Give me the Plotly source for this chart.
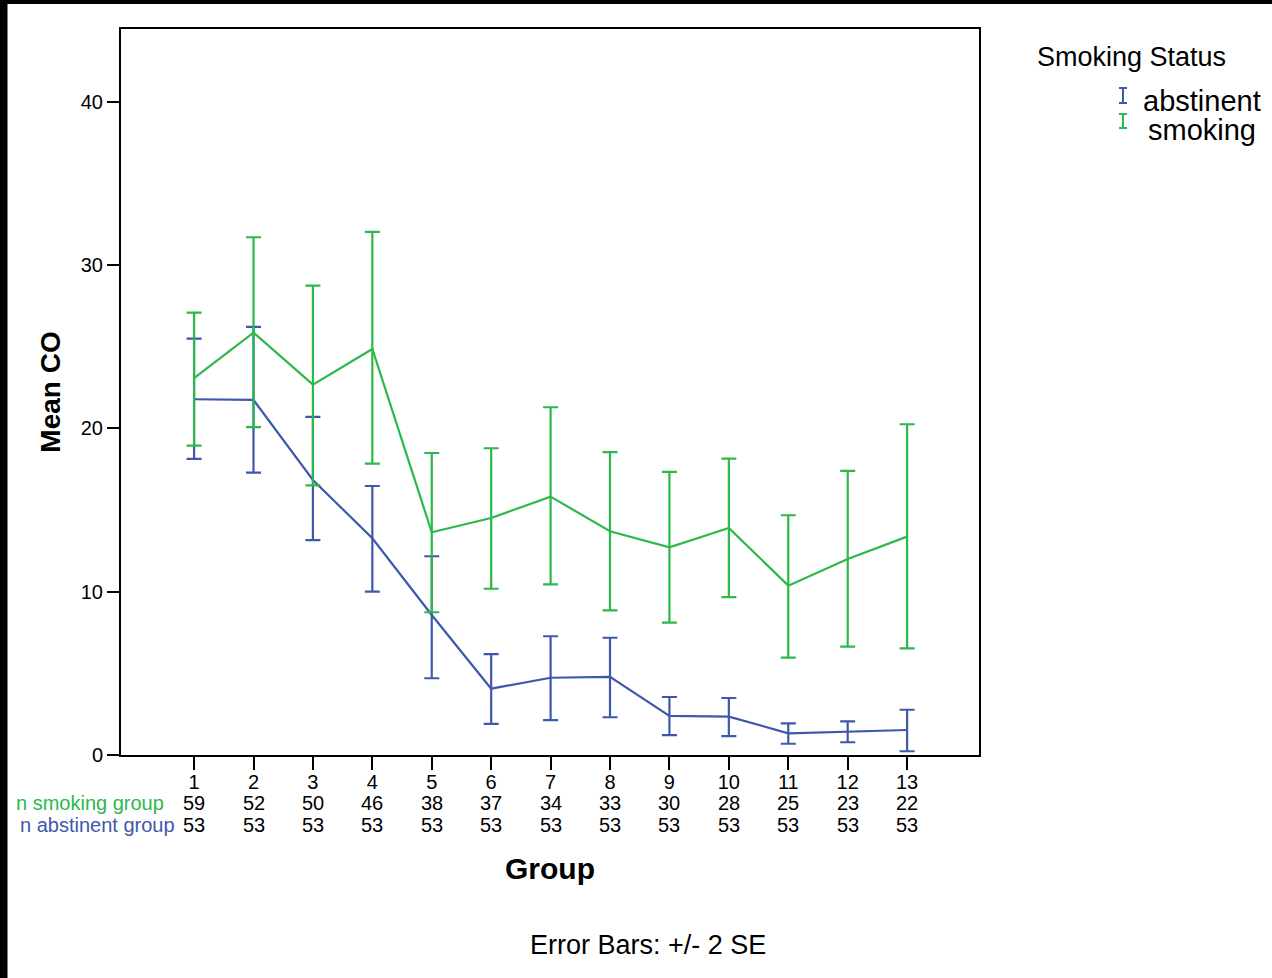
import plotly.graph_objects as go

# ---- data ----
groups = [1, 2, 3, 4, 5, 6, 7, 8, 9, 10, 11, 12, 13]

smoking_mean  = [23.07, 25.86, 22.68, 24.86, 13.64, 14.51, 15.82, 13.70, 12.72, 13.90, 10.37, 12.00, 13.37]
smoking_upper = [27.09, 31.70, 28.74, 32.03, 18.49, 18.78, 21.29, 18.54, 17.33, 18.14, 14.68, 17.39, 20.25]
smoking_lower = [18.94, 20.07, 16.51, 17.84, 8.74, 10.18, 10.45, 8.86, 8.10, 9.66, 5.96, 6.63, 6.53]

abstinent_mean  = [21.78, 21.74, 16.84, 13.27, 8.57, 4.06, 4.73, 4.78, 2.39, 2.35, 1.33, 1.41, 1.53]
abstinent_upper = [25.49, 26.21, 20.70, 16.47, 12.17, 6.18, 7.27, 7.18, 3.55, 3.49, 1.94, 2.06, 2.77]
abstinent_lower = [18.13, 17.29, 13.15, 10.00, 4.70, 1.90, 2.14, 2.31, 1.22, 1.16, 0.69, 0.78, 0.23]

smoking_n   = [59, 52, 50, 46, 38, 37, 34, 33, 30, 28, 25, 23, 22]
abstinent_n = [53, 53, 53, 53, 53, 53, 53, 53, 53, 53, 53, 53, 53]

y_ticks = [0, 10, 20, 30, 40]

GREEN = "#2db84b"
BLUE = "#3e58ac"
FONT = "Liberation Sans, Arial, sans-serif"

W, H = 1272, 978
L, R, T, B = 121, 293, 29, 223
PW, PH = W - L - R, H - T - B


def px_x(p):
    return (p - L) / PW


def px_y(p):
    return (H - B - p) / PH


fig = go.Figure()

for name, mean, up, lo, col in [
    ("abstinent", abstinent_mean, abstinent_upper, abstinent_lower, BLUE),
    ("smoking", smoking_mean, smoking_upper, smoking_lower, GREEN),
]:
    fig.add_trace(go.Scatter(
        x=groups, y=mean, mode="lines", name=name,
        line=dict(color=col, width=2.2),
        error_y=dict(type="data", symmetric=False,
                     array=[u - m for u, m in zip(up, mean)],
                     arrayminus=[m - l for m, l in zip(mean, lo)],
                     color=col, thickness=2.2, width=7.5),
        showlegend=False,
    ))

annotations = []
# count rows under the x axis
for g, sn, an in zip(groups, smoking_n, abstinent_n):
    annotations.append(dict(x=g, xref="x", y=px_y(803), yref="paper", text=str(sn),
                            showarrow=False, font=dict(size=20, color="black", family=FONT),
                            xanchor="center", yanchor="middle"))
    annotations.append(dict(x=g, xref="x", y=px_y(825), yref="paper", text=str(an),
                            showarrow=False, font=dict(size=20, color="black", family=FONT),
                            xanchor="center", yanchor="middle"))
annotations.append(dict(x=px_x(166), xref="paper", y=px_y(803), yref="paper", text="n smoking group",
                        showarrow=False, font=dict(size=20, color=GREEN, family=FONT),
                        xanchor="right", yanchor="middle"))
annotations.append(dict(x=px_x(177), xref="paper", y=px_y(825), yref="paper", text="n abstinent group",
                        showarrow=False, font=dict(size=20, color=BLUE, family=FONT),
                        xanchor="right", yanchor="middle"))
# footnote
annotations.append(dict(x=px_x(648), xref="paper", y=px_y(945), yref="paper", text="Error Bars: +/- 2 SE",
                        showarrow=False, font=dict(size=27, color="black", family=FONT),
                        xanchor="center", yanchor="middle"))
# legend (drawn by hand to get the error-bar icons)
annotations.append(dict(x=px_x(1035), xref="paper", y=px_y(57), yref="paper", text="Smoking Status",
                        showarrow=False, font=dict(size=27, color="black", family=FONT),
                        xanchor="left", yanchor="middle"))
annotations.append(dict(x=px_x(1202), xref="paper", y=px_y(101), yref="paper", text="abstinent",
                        showarrow=False, font=dict(size=29, color="black", family=FONT),
                        xanchor="center", yanchor="middle"))
annotations.append(dict(x=px_x(1202), xref="paper", y=px_y(130), yref="paper", text="smoking",
                        showarrow=False, font=dict(size=29, color="black", family=FONT),
                        xanchor="center", yanchor="middle"))

shapes = []
for col, y0, y1 in [(BLUE, 88, 103), (GREEN, 114, 128)]:
    xc = 1123
    shapes.append(dict(type="line", xref="paper", yref="paper", x0=px_x(xc), x1=px_x(xc),
                       y0=px_y(y0), y1=px_y(y1), line=dict(color=col, width=2)))
    for yy in (y0, y1):
        shapes.append(dict(type="line", xref="paper", yref="paper", x0=px_x(xc - 4), x1=px_x(xc + 4),
                           y0=px_y(yy), y1=px_y(yy), line=dict(color=col, width=2)))
# black frame fragments of the screenshot (top and left)
shapes.append(dict(type="rect", xref="paper", yref="paper", x0=px_x(-5), x1=px_x(7.5),
                   y0=px_y(H + 5), y1=px_y(-5), fillcolor="black", line=dict(width=0), layer="above"))
shapes.append(dict(type="rect", xref="paper", yref="paper", x0=px_x(-5), x1=px_x(W + 5),
                   y0=px_y(4), y1=px_y(-5), fillcolor="black", line=dict(width=0), layer="above"))

fig.update_layout(
    width=W, height=H,
    margin=dict(l=L, r=R, t=T, b=B, pad=0),
    paper_bgcolor="white", plot_bgcolor="white",
    font=dict(family=FONT, color="black"),
    showlegend=False,
    annotations=annotations,
    shapes=shapes,
    xaxis=dict(
        range=[-0.23, 14.21], tickmode="array", tickvals=groups, ticktext=[str(g) for g in groups],
        ticks="outside", ticklen=13, tickwidth=2, tickcolor="black",
        ticklabelstandoff=-5,
        showline=True, linecolor="black", linewidth=2, mirror=True,
        showgrid=False, zeroline=False,
        tickfont=dict(size=20, family=FONT, color="black"),
        title=dict(text="<b>Group</b>", font=dict(size=30, family=FONT, color="black"), standoff=66),
    ),
    yaxis=dict(
        range=[0, 44.45], tickmode="array", tickvals=y_ticks,
        ticks="outside", ticklen=12, tickwidth=2, tickcolor="black",
        showline=True, linecolor="black", linewidth=2, mirror=True,
        showgrid=False, zeroline=False,
        tickfont=dict(size=20, family=FONT, color="black"),
        title=dict(text="<b>Mean CO</b>", font=dict(size=28, family=FONT, color="black"), standoff=12),
    ),
)

fig.write_html("out.html", config={"displayModeBar": False},
               post_script="document.body.style.margin='0';document.body.style.padding='0';")
